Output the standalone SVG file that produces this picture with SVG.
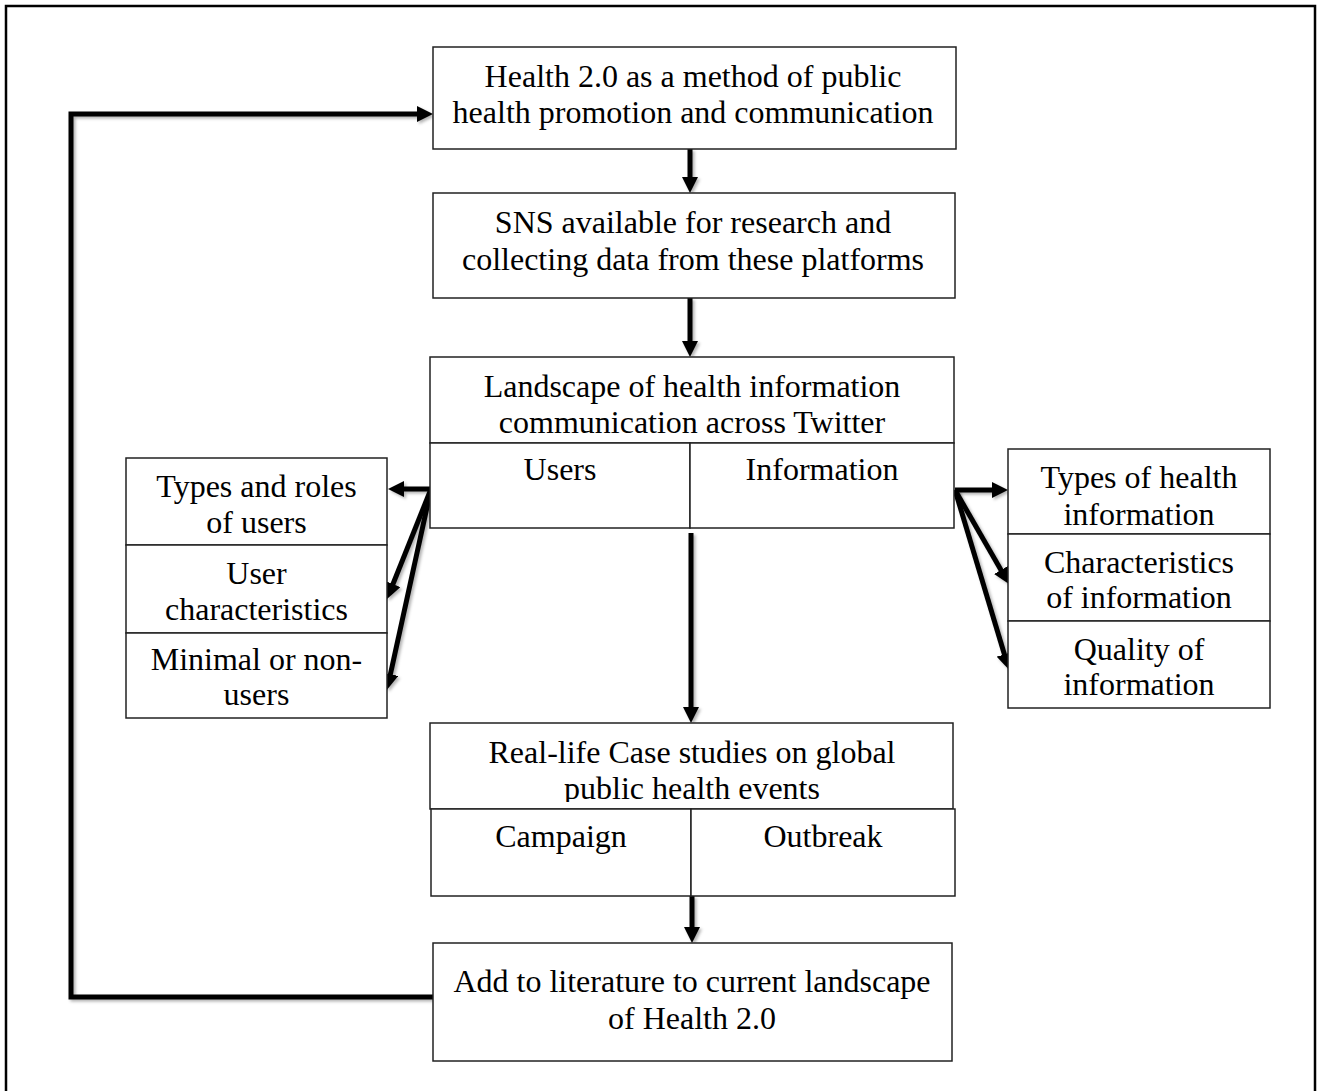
<svg xmlns="http://www.w3.org/2000/svg" width="1317" height="1091" viewBox="0 0 1317 1091">
<style>
.box{fill:#fff;stroke:#222;stroke-width:1.5}
.t{font-family:"Liberation Serif","Times New Roman",serif;font-size:32px;fill:#000;text-anchor:middle}
.ar{stroke:#000;stroke-width:5;fill:none;marker-end:url(#ah);filter:url(#sh)}
</style>
<defs>
<marker id="ah" markerUnits="userSpaceOnUse" markerWidth="16" markerHeight="16" viewBox="0 0 16 16" refX="8" refY="8" orient="auto">
<path d="M0,0 L16,8 L0,16 z" fill="#000"/>
</marker>
<filter id="sh" filterUnits="userSpaceOnUse" x="0" y="0" width="1317" height="1091">
<feDropShadow dx="2" dy="2" stdDeviation="1.5" flood-color="#000" flood-opacity="0.3"/>
</filter>
<clipPath id="caseclip"><rect x="430" y="723" width="524" height="79"/></clipPath>
</defs>
<rect x="6" y="6" width="1309" height="1100" fill="none" stroke="#000" stroke-width="2.5"/>

<g id="connectors">
<line class="ar" x1="690" y1="149" x2="690" y2="185"/>
<line class="ar" x1="690" y1="298" x2="690" y2="349"/>
<line class="ar" x1="691" y1="533" x2="691" y2="715"/>
<line class="ar" x1="692" y1="896" x2="692" y2="935"/>
<path class="ar" d="M433,997 H71 V114 H425"/>
<line class="ar" x1="431" y1="489" x2="396" y2="489"/>
<line class="ar" x1="431" y1="489" x2="390" y2="591.5"/>
<line class="ar" x1="431" y1="489" x2="388.7" y2="682"/>
<line class="ar" x1="955" y1="490" x2="1000" y2="490"/>
<line class="ar" x1="955" y1="490" x2="1005" y2="577"/>
<line class="ar" x1="955" y1="490" x2="1006.7" y2="662"/>
</g>

<g id="n-health20">
<rect class="box" x="433" y="47" width="523" height="102"/>
<text class="t" x="693" y="87">Health 2.0 as a method of public</text>
<text class="t" x="693" y="123">health promotion and communication</text>
</g>

<g id="n-sns">
<rect class="box" x="433" y="193" width="522" height="105"/>
<text class="t" x="693" y="233">SNS available for research and</text>
<text class="t" x="693" y="270">collecting data from these platforms</text>
</g>

<g id="n-landscape">
<rect class="box" x="430" y="357" width="524" height="86"/>
<text class="t" x="692" y="397">Landscape of health information</text>
<text class="t" x="692" y="433">communication across Twitter</text>
<rect class="box" x="430" y="443" width="260" height="85"/>
<rect class="box" x="690" y="443" width="264" height="85"/>
<text class="t" x="560" y="480">Users</text>
<text class="t" x="822" y="480">Information</text>
</g>

<g id="n-users">
<rect class="box" x="126" y="458" width="261" height="87"/>
<text class="t" x="256.5" y="497">Types and roles</text>
<text class="t" x="256.5" y="533">of users</text>
<rect class="box" x="126" y="545" width="261" height="88"/>
<text class="t" x="256.5" y="584">User</text>
<text class="t" x="256.5" y="620">characteristics</text>
<rect class="box" x="126" y="633" width="261" height="85"/>
<text class="t" x="256.5" y="670">Minimal or non-</text>
<text class="t" x="256.5" y="705">users</text>
</g>

<g id="n-information">
<rect class="box" x="1008" y="449" width="262" height="85"/>
<text class="t" x="1139" y="488">Types of health</text>
<text class="t" x="1139" y="525">information</text>
<rect class="box" x="1008" y="534" width="262" height="87"/>
<text class="t" x="1139" y="573">Characteristics</text>
<text class="t" x="1139" y="608">of information</text>
<rect class="box" x="1008" y="621" width="262" height="87"/>
<text class="t" x="1139" y="660">Quality of</text>
<text class="t" x="1139" y="695">information</text>
</g>

<g id="n-case">
<rect class="box" x="430" y="723" width="523" height="86"/>
<g clip-path="url(#caseclip)">
<text class="t" x="692" y="763">Real-life Case studies on global</text>
<text class="t" x="692" y="799">public health events</text>
</g>
<rect class="box" x="431" y="809" width="260" height="87"/>
<rect class="box" x="691" y="809" width="264" height="87"/>
<text class="t" x="561" y="847">Campaign</text>
<text class="t" x="823" y="847">Outbreak</text>
</g>

<g id="n-literature">
<rect class="box" x="433" y="943" width="519" height="118"/>
<text class="t" x="692" y="992">Add to literature to current landscape</text>
<text class="t" x="692" y="1029">of Health 2.0</text>
</g>
</svg>
